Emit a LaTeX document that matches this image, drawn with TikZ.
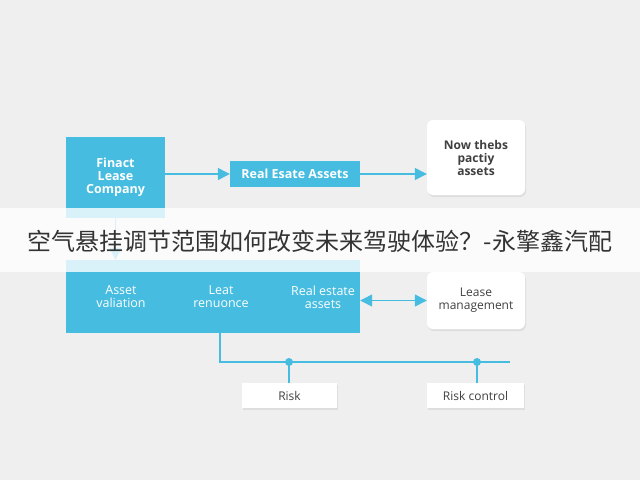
\documentclass[tikz,border=0pt]{standalone}
\usepackage{fontspec}
\setmainfont{Open Sans}
\newfontfamily\cjk{Noto Sans CJK SC}
\usetikzlibrary{arrows.meta,shadows}
\definecolor{cy}{HTML}{45BCE0}
\definecolor{bg}{HTML}{EFEFEF}
\begin{document}
\begin{tikzpicture}[x=1pt,y=-1pt,
 cbox/.style={fill=cy,draw=none,text=white,font=\fontsize{12.5}{13}\selectfont\bfseries,align=center,inner sep=0},
 wbox/.style={fill=white,draw=none,text=black!75,font=\fontsize{12}{13}\selectfont,align=center,inner sep=0,drop shadow={opacity=0.15,shadow xshift=1pt,shadow yshift=-2pt}},
 lt/.style={text=white,font=\fontsize{12.5}{13}\selectfont,align=center},
 con/.style={draw=cy,line width=1.3pt},
 arr/.style={con,-{Triangle[length=12pt,width=12pt]}},
 darr/.style={con,{Triangle[length=12pt,width=12pt]}-{Triangle[length=12pt,width=12pt]}}]
\useasboundingbox (0,0) rectangle (640,480);
\fill[bg] (0,0) rectangle (640,480);
\node[cbox,minimum width=99,minimum height=81] (fin) at (115.5,177.5) {Finact\\Lease\\Company};
\node[cbox,minimum width=130,minimum height=26] (rea) at (295,174) {Real Esate Assets};
\node[wbox,rounded corners=6,minimum width=98,minimum height=75] (now) at (476,157.5) {\bfseries Now thebs\\\bfseries pactiy\\\bfseries assets};
\node[cbox,minimum width=294,minimum height=73] (big) at (213,296.5) {};
\node[lt] (av) at (121,297) {Asset\\valiation};
\node[lt] (lr) at (221,297) {Leat\\renuonce};
\node[lt] (re) at (323,297) {Real estate\\assets};
\node[wbox,rounded corners=6,minimum width=98,minimum height=57] (lm) at (476,300.5) {Lease\\management};
\node[wbox,minimum width=95,minimum height=25] (risk) at (289.5,395.5) {Risk};
\node[wbox,minimum width=97,minimum height=25] (rc) at (475.5,395.5) {Risk control};
\draw[arr] (fin.east|-rea) -- (rea);
\draw[arr] (rea) -- (now.west|-rea);
\draw[arr] (fin) -- (big.north-|fin);
\draw[darr] (big.east|-lm) -- (lm);
\coordinate (j0) at (220,362);
\coordinate (j1) at (289,362);
\coordinate (j2) at (477,362);
\coordinate (j3) at (510,362);
\draw[con] (big.south-|j0) -- (j0) -- (j3);
\draw[con] (j1) -- (risk.north-|j1);
\draw[con] (j2) -- (rc.north-|j2);
\fill[cy] (j1) circle (4) (j2) circle (4);
\fill[white,opacity=0.8] (0,208) rectangle (640,272);
\node[font=\cjk\fontsize{24}{26}\selectfont,text=black!80] (t) at (320,241) {空气悬挂调节范围如何改变未来驾驶体验？-永擎鑫汽配};
\end{tikzpicture}
\end{document}
